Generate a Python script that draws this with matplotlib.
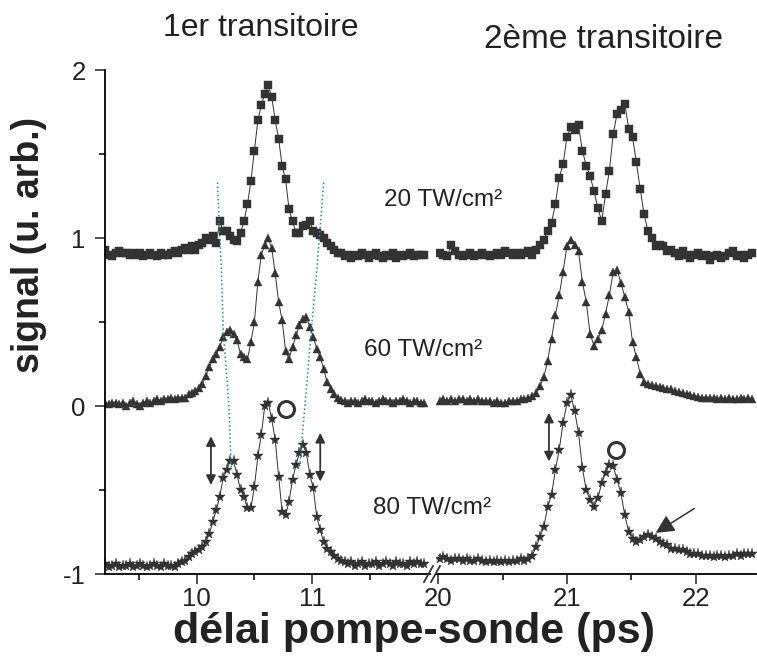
import numpy as np
import matplotlib
matplotlib.use("Agg")
import matplotlib.pyplot as plt

plt.rcParams["font.family"] = ["Liberation Sans", "DejaVu Sans"]
plt.rcParams["axes.unicode_minus"] = False

# first transient, delay grid 9.21 ... 11.97 ps (step 0.03)
sq_left = [
    0.93, 0.90, 0.89, 0.91, 0.92, 0.91, 0.91, 0.90, 0.91, 0.90, 0.91, 0.89,
    0.90, 0.91, 0.90, 0.89, 0.91, 0.90, 0.90, 0.91, 0.92, 0.91, 0.93, 0.94,
    0.93, 0.95, 0.93, 0.96, 0.97, 1.00, 0.99, 1.01, 0.97, 1.10, 1.04, 1.04,
    1.01, 0.99, 0.98, 1.03, 1.10, 1.20, 1.34, 1.52, 1.70, 1.79, 1.86, 1.91,
    1.84, 1.70, 1.59, 1.43, 1.35, 1.17, 1.10, 1.03, 1.03, 1.07, 1.08, 1.10,
    1.04, 1.03, 1.02, 1.00, 0.97, 0.95, 0.93, 0.91,
    0.91, 0.89, 0.90, 0.88, 0.90, 0.89, 0.91, 0.90, 0.88, 0.90, 0.91, 0.89,
    0.88, 0.90, 0.89, 0.91, 0.88, 0.90, 0.89, 0.90, 0.91, 0.89, 0.90, 0.90,
    0.90,
]
tri_left = [
    0.02, 0.01, 0.02, 0.02, 0.01, 0.02, 0.00, 0.02, 0.03, 0.01, 0.00, 0.02,
    0.03, 0.02, 0.03, 0.04, 0.03, 0.04, 0.04, 0.05, 0.04, 0.05, 0.05, 0.05,
    0.07, 0.08, 0.09, 0.11, 0.13, 0.18, 0.23, 0.28, 0.31, 0.35, 0.41, 0.44,
    0.45, 0.43, 0.39, 0.31, 0.29, 0.28, 0.38, 0.50, 0.74, 0.90, 0.96, 1.00,
    0.94, 0.79, 0.62, 0.51, 0.33, 0.28, 0.35, 0.42, 0.48, 0.52, 0.53, 0.47,
    0.41, 0.34, 0.29, 0.22, 0.14, 0.10, 0.07, 0.05, 0.035,
    0.03, 0.02, 0.03, 0.03, 0.02, 0.03, 0.04, 0.03, 0.03, 0.02, 0.03, 0.04,
    0.03, 0.03, 0.02, 0.03, 0.03, 0.04, 0.03, 0.02, 0.03, 0.03, 0.02, 0.02,
]
star_left = [
    -0.94, -0.96, -0.95, -0.94, -0.96, -0.95, -0.95, -0.94, -0.96, -0.95,
    -0.94, -0.95, -0.96, -0.95, -0.94, -0.95, -0.96, -0.94, -0.95, -0.95,
    -0.96, -0.94, -0.93,
    -0.92, -0.90, -0.88, -0.87, -0.86, -0.84, -0.81, -0.76, -0.69, -0.62,
    -0.54, -0.43, -0.38, -0.33, -0.33, -0.41, -0.50, -0.54, -0.61, -0.61,
    -0.48, -0.30, -0.17, 0.00, 0.02, -0.08, -0.20, -0.42, -0.63, -0.65,
    -0.57, -0.44, -0.35, -0.28, -0.23, -0.28, -0.41, -0.49, -0.66, -0.74,
    -0.81, -0.85, -0.87, -0.89, -0.91, -0.92,
    -0.93, -0.94, -0.93, -0.95, -0.94, -0.93, -0.95, -0.94, -0.94, -0.93,
    -0.95, -0.94, -0.93, -0.94, -0.95, -0.93, -0.94, -0.94, -0.95, -0.93,
    -0.94, -0.93, -0.94, -0.94,
]

# second transient, delay grid 20.01 ... 22.44 ps (step 0.03)
sq_right = [
    0.91, 0.90, 0.89, 0.96, 0.92, 0.90, 0.89, 0.90, 0.91, 0.89, 0.90, 0.91,
    0.90, 0.89, 0.90, 0.91, 0.90, 0.92, 0.91, 0.90, 0.91, 0.90, 0.91, 0.92,
    0.90,
    0.93, 0.96, 0.99, 1.04, 1.09, 1.20, 1.36, 1.44, 1.60, 1.66, 1.64, 1.67,
    1.52, 1.43, 1.37, 1.28, 1.18, 1.10, 1.26, 1.40, 1.62, 1.74, 1.76, 1.80,
    1.65, 1.60, 1.45, 1.29, 1.14, 1.04, 1.00, 0.95, 0.96, 0.95, 0.92, 0.93,
    0.91, 0.89, 0.92, 0.90, 0.88, 0.90, 0.91, 0.89, 0.90, 0.87, 0.89, 0.90,
    0.88, 0.89, 0.91, 0.92, 0.89, 0.90, 0.88, 0.90, 0.91,
]
tri_right = [
    0.03, 0.04, 0.03, 0.04, 0.03, 0.04, 0.04, 0.03, 0.04, 0.03, 0.04, 0.03,
    0.03, 0.03, 0.02, 0.03, 0.02, 0.02, 0.03, 0.03, 0.03, 0.04, 0.04, 0.05,
    0.06,
    0.075, 0.12, 0.17, 0.27, 0.40, 0.54, 0.66, 0.80, 0.95, 0.99, 0.96, 0.92,
    0.74, 0.62, 0.43, 0.36, 0.40, 0.45, 0.55, 0.66, 0.80, 0.81, 0.73, 0.65,
    0.56, 0.38, 0.29, 0.19, 0.145, 0.13, 0.125, 0.12, 0.115, 0.11, 0.10, 0.10,
    0.09, 0.085, 0.08, 0.07, 0.065, 0.06, 0.055, 0.05, 0.05, 0.045, 0.045,
    0.04, 0.045, 0.04, 0.045, 0.04, 0.04, 0.045, 0.04, 0.045, 0.04,
]
star_right = [
    -0.91, -0.90, -0.91, -0.92, -0.91, -0.91, -0.92, -0.91, -0.92, -0.92,
    -0.91, -0.92, -0.93, -0.92, -0.93, -0.92, -0.93, -0.92, -0.93, -0.92,
    -0.92, -0.91, -0.92, -0.91,
    -0.89, -0.84, -0.78, -0.72, -0.60, -0.53, -0.38, -0.26, -0.10, 0.015,
    0.065, -0.03, -0.16, -0.37, -0.50, -0.56, -0.60, -0.55, -0.46, -0.40,
    -0.35, -0.36, -0.44, -0.52, -0.65, -0.75, -0.79, -0.81, -0.80, -0.78,
    -0.77, -0.78, -0.79, -0.81, -0.82, -0.83, -0.85,
    -0.85, -0.86, -0.86, -0.87, -0.88, -0.88, -0.88, -0.89, -0.89, -0.89,
    -0.90, -0.89, -0.89, -0.90, -0.89, -0.89, -0.88, -0.89, -0.88, -0.88,
    -0.88,
]

x_left = np.round(9.21 + 0.03 * np.arange(len(sq_left)), 2)
x_right = np.round(20.01 + 0.03 * np.arange(len(sq_right)), 2)

# guide lines (dotted) drawn on the first transient
guide_a_x = [10.18, 10.215, 10.23, 10.28, 10.30]
guide_a_y = [1.33, 0.80, 0.45, 0.00, -0.38]
guide_b_x = [11.10, 11.04, 11.00, 10.95, 10.89]
guide_b_y = [1.33, 0.81, 0.51, 0.10, -0.37]

col = "#333333"
txt = "#222222"
W, H = 757, 664

fig = plt.figure(figsize=(W / 100, H / 100), dpi=100)


def box(x0, x1, ytop, ybot):
    return [x0 / W, 1 - ybot / H, (x1 - x0) / W, (ybot - ytop) / H]


ax1 = fig.add_axes(box(105, 430, 70, 574))
ax2 = fig.add_axes(box(436.4, 756, 70, 574))

for ax, x, s, t, st in [
    (ax1, x_left, sq_left, tri_left, star_left),
    (ax2, x_right, sq_right, tri_right, star_right),
]:
    ax.plot(x, s, "-", color=col, lw=0.7, marker="s", ms=5.4,
            mec=col, mew=0.3)
    ax.plot(x, t, "-", color=col, lw=0.7, marker="^", ms=6.2,
            mec=col, mew=0.3)
    ax.plot(x, st, "-", color=col, lw=0.7, marker="*", ms=8,
            mec=col, mew=0.3)
    ax.set_ylim(-1, 2)
    for side in ["top", "right"]:
        ax.spines[side].set_visible(False)
    ax.spines["bottom"].set_linewidth(1.3)
    ax.spines["left"].set_linewidth(1.3)
    ax.tick_params(which="major", length=7, width=1.1, labelsize=18.5,
                   pad=2, colors=txt)
    ax.tick_params(which="minor", length=4, width=1.1)

ax1.tick_params(axis="y", pad=7)
ax1.set_xlim(9.207, 12.02)
ax1.set_xticks([10, 11])
ax1.set_xticks([9.5, 10.5, 11.5], minor=True)
ax1.set_yticks([-1, 0, 1, 2])
ax1.set_yticks([-0.5, 0.5, 1.5], minor=True)

ax2.set_xlim(19.985, 22.47)
ax2.set_xticks([20, 21, 22])
ax2.set_xticks([20.5, 21.5], minor=True)
ax2.spines["left"].set_visible(False)
ax2.set_yticks([])

ax1.plot(guide_a_x, guide_a_y, ":", color="#1f8f9f", lw=1.1)
ax1.plot(guide_b_x, guide_b_y, ":", color="#1f8f9f", lw=1.1)

# double arrows
dbl = dict(arrowstyle="<|-|>", color=col, lw=1.3, mutation_scale=14,
           shrinkA=0, shrinkB=0)
ax1.annotate("", xy=(10.124, -0.18), xytext=(10.124, -0.47), arrowprops=dbl)
ax1.annotate("", xy=(11.07, -0.16), xytext=(11.07, -0.45), arrowprops=dbl)
ax2.annotate("", xy=(20.86, -0.04), xytext=(20.86, -0.33), arrowprops=dbl)

# circles
ax1.plot([10.77], [-0.02], "o", mfc="none", mec=col, ms=11.5, mew=2.2)
ax2.plot([21.38], [-0.26], "o", mfc="none", mec=col, ms=11.5, mew=2.2)

# arrow to the shoulder
ax2.annotate("", xy=(21.69, -0.755), xytext=(21.99, -0.61),
             arrowprops=dict(arrowstyle="-|>", color=col, lw=1.1,
                             mutation_scale=28, shrinkA=0, shrinkB=0))

# axis break marks
for dx in [0, 7]:
    fig.add_artist(plt.Line2D([(424 + dx) / W, (433 + dx) / W],
                              [1 - 582 / H, 1 - 566 / H],
                              color=col, lw=1.3))

fig.text(261 / W, 1 - 28 / H, "1er transitoire", ha="center", va="center",
         fontsize=23, color=txt)
fig.text(604 / W, 1 - 39 / H, "2ème transitoire", ha="center", va="center",
         fontsize=24, color=txt)

fig.text(443 / W, 1 - 200 / H, "20 TW/cm²", ha="center", va="center",
         fontsize=17.5, color=txt)
fig.text(423 / W, 1 - 350 / H, "60 TW/cm²", ha="center", va="center",
         fontsize=17.5, color=txt)
fig.text(432 / W, 1 - 508 / H, "80 TW/cm²", ha="center", va="center",
         fontsize=17.5, color=txt)

fig.text(29 / W, 1 - 245 / H, "signal (u. arb.)", rotation=90,
         ha="center", va="center", fontsize=27, fontweight="bold",
         color=txt)
fig.text(414 / W, 1 - 632 / H, "délai pompe-sonde (ps)", ha="center",
         va="center", fontsize=31, fontweight="bold", color=txt)

fig.savefig("out.png", dpi=100)
